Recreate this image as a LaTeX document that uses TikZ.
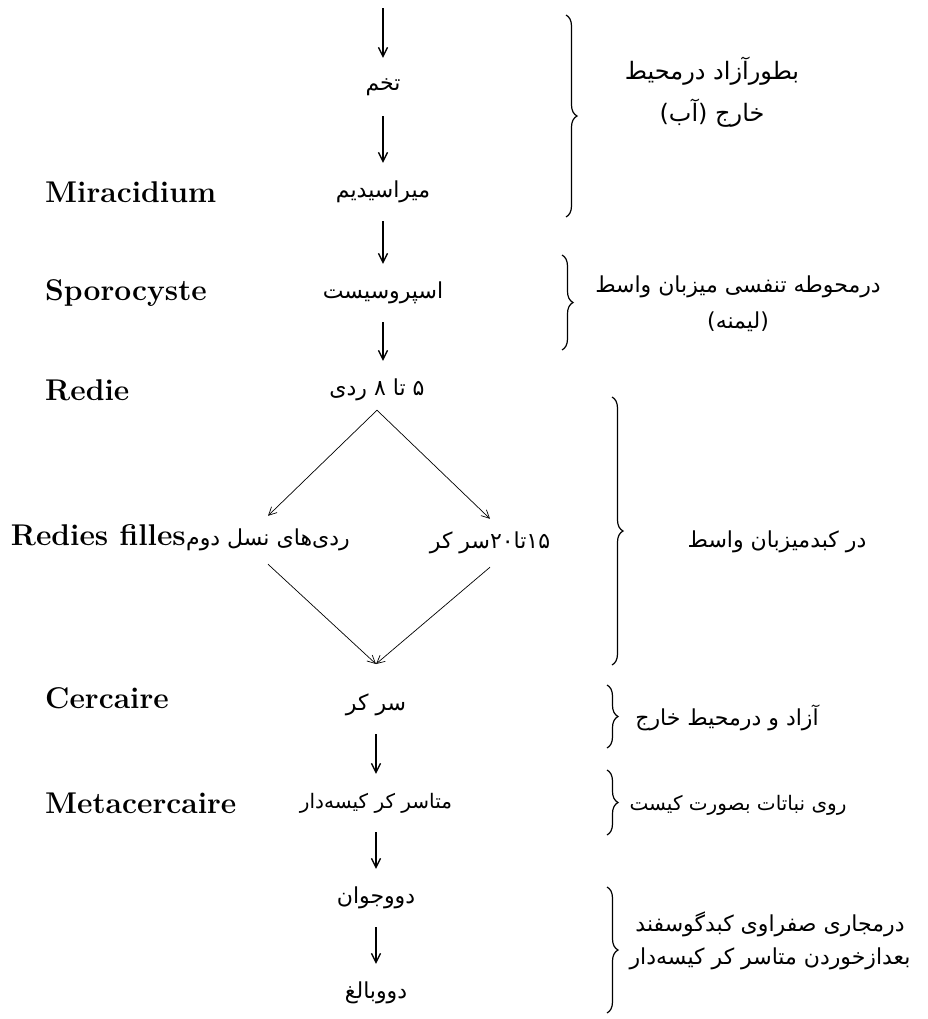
\documentclass[tikz,border=0pt]{standalone}
\usepackage{fontspec}
\usetikzlibrary{arrows.meta,decorations.pathreplacing}
\TeXXeTstate=1
\newfontfamily\fa[Script=Arabic]{DejaVu Sans}
\begin{document}
\begin{tikzpicture}[x=1bp,y=-1bp]
\tikzset{
 fatext/.style={font=\fa\fontsize{22bp}{26bp}\selectfont, inner sep=0pt},
 col/.style={fatext, minimum height=58bp},
 lat/.style={font=\bfseries\fontsize{30bp}{34bp}\selectfont, inner sep=0pt},
 arr/.style={-{Straight Barb[length=9bp,width=9bp]}, line width=1.3bp},
 diag/.style={-{Straight Barb[length=8bp,width=8bp]}, line width=0.7bp},
 brc/.style={decorate, decoration={brace, amplitude=11bp, aspect=0.5}, line width=1.2bp},
 note/.style={fatext, align=center}
}
\useasboundingbox (0,0) rectangle (928,1019);
\fill[white] (0,0) rectangle (928,1019);

% column
\coordinate (c0) at (383,8);
\node[col] (egg)   at (383,87)  {\beginR تخم\endR};
\node[col] (mira)  at (383,192) {\beginR میراسیدیم\endR};
\node[col] (spor)  at (383,293) {\beginR اسپروسیست\endR};
\node[col] (redi)  at (377,390) {\beginR ۵ تا ۸ ردی\endR};
\node[fatext, minimum height=48bp] (rl) at (268,540) {\beginR ردی‌های نسل دوم\endR};
\node[fatext, minimum height=48bp] (rr) at (490,543) {\beginR ۱۵تا۲۰سر کر\endR};
\coordinate (dbot) at (376,664);
\node[col] (cer)   at (376,705) {\beginR سر کر\endR};
\node[col, font=\fa\fontsize{20bp}{24bp}\selectfont] (meta)  at (376,803) {\beginR متاسر کر کیسه‌دار\endR};
\node[col] (young) at (376,898) {\beginR دووجوان\endR};
\node[col] (adult) at (376,993) {\beginR دووبالغ\endR};

% latin labels
\node[lat, anchor=west] (lmira) at (45,192) {Miracidium};
\node[lat, anchor=west] (lspor) at (45,293) {Sporocyste};
\node[lat, anchor=west] (lredi) at (45,390) {Redie};
\node[lat, anchor=base east] (lrf) at (rl.base west) {Redies filles};
\node[lat, anchor=west] (lcer) at (45,698) {Cercaire};
\node[lat, anchor=west] (lmeta) at (45,803) {Metacercaire};

% arrows
\draw[arr] (c0) -- (egg);
\draw[arr] (egg) -- (mira);
\draw[arr] (mira) -- (spor);
\draw[arr] (spor) -- (spor |- redi.north);
\draw[diag] ([yshift=9bp]redi.south) -- (rl.north);
\draw[diag] ([yshift=9bp]redi.south) -- (rr.north);
\draw[diag] (rl.south) -- (dbot);
\draw[diag] (rr.south) -- (dbot);
\draw[arr] (cer) -- (meta);
\draw[arr] (meta) -- (young);
\draw[arr] (young) -- (adult);

% braces
\draw[brc] (566,15) -- (566,217);
\node[note, font=\fa\fontsize{24bp}{42bp}\selectfont] (n1) at (712,92) {\beginR بطورآزاد درمحیط\endR\\\beginR خارج (آب)\endR};
\draw[brc] (562,255) -- (562,350);
\node[note, font=\fa\fontsize{22bp}{36bp}\selectfont] (n2) at (738,304) {\beginR درمحوطه تنفسی میزبان واسط\endR\\\beginR (لیمنه)\endR};
\draw[brc] (612,397) -- (612,665);
\node[note] (n3) at (777,542) {\beginR در کبدمیزبان واسط\endR};
\draw[brc] (607,685) -- (607,748);
\node[note] (n4) at (727,718) {\beginR آزاد و درمحیط خارج\endR};
\draw[brc] (607,770) -- (607,835);
\node[note, font=\fa\fontsize{20bp}{24bp}\selectfont] (n5) at (738,805) {\beginR روی نباتات بصورت کیست\endR};
\draw[brc] (607,887) -- (607,1013);
\node[note, font=\fa\fontsize{22bp}{33bp}\selectfont] (n6) at (770,941) {\beginR درمجاری صفراوی کبدگوسفند\endR\\\beginR بعدازخوردن متاسر کر کیسه‌دار\endR};
\end{tikzpicture}
\end{document}
